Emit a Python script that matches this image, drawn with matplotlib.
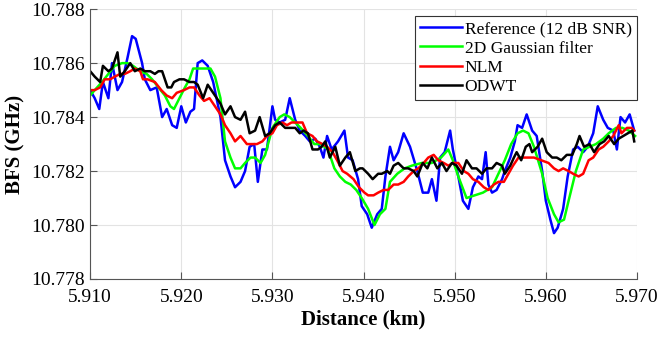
import matplotlib
matplotlib.use("Agg")
import matplotlib.pyplot as plt

plt.rcParams["font.family"] = ["Liberation Serif", "DejaVu Serif"]

# Reference (12 dB SNR)
ref_x = [5.9100, 5.9105, 5.9110, 5.9114, 5.9120, 5.9124, 5.9130, 5.9135, 5.9141, 5.9146,
         5.9150, 5.9157, 5.9160, 5.9166, 5.9173, 5.9179, 5.9184, 5.9190, 5.9195, 5.9200,
         5.9205, 5.9210, 5.9214, 5.9218, 5.9223, 5.9229, 5.9235, 5.9243, 5.9248, 5.9254,
         5.9259, 5.9265, 5.9270, 5.9275, 5.9280, 5.9284, 5.9289, 5.9294, 5.9300, 5.9303,
         5.9308, 5.9314, 5.9319, 5.9325, 5.9330, 5.9336, 5.9341, 5.9347, 5.9352, 5.9356,
         5.9360, 5.9365, 5.9372, 5.9379, 5.9383, 5.9388, 5.9394, 5.9398, 5.9404, 5.9409,
         5.9415, 5.9420, 5.9424, 5.9429, 5.9433, 5.9438, 5.9444, 5.9451, 5.9459, 5.9465,
         5.9471, 5.9475, 5.9480, 5.9484, 5.9489, 5.9495, 5.9498, 5.9504, 5.9509, 5.9515,
         5.9520, 5.9526, 5.9530, 5.9534, 5.9537, 5.9541, 5.9546, 5.9552, 5.9555, 5.9561,
         5.9566, 5.9569, 5.9574, 5.9579, 5.9585, 5.9590, 5.9596, 5.9600, 5.9605, 5.9609,
         5.9613, 5.9619, 5.9624, 5.9630, 5.9635, 5.9641, 5.9646, 5.9652, 5.9657, 5.9663,
         5.9668, 5.9674, 5.9678, 5.9682, 5.9687, 5.9692, 5.9697]
ref_y = [10.7850, 10.7847, 10.7843, 10.7853, 10.7847, 10.7860, 10.7850, 10.7853, 10.7862, 10.7870,
         10.7869, 10.7860, 10.7854, 10.7850, 10.7851, 10.7840, 10.7843, 10.7837, 10.7836, 10.7844,
         10.7838, 10.7842, 10.7843, 10.7860, 10.7861, 10.7859, 10.7853, 10.7840, 10.7824, 10.7818,
         10.7814, 10.7816, 10.7820, 10.7829, 10.7830, 10.7816, 10.7828, 10.7828, 10.7844, 10.7839,
         10.7838, 10.7839, 10.7847, 10.7839, 10.7835, 10.7833, 10.7831, 10.7832, 10.7829, 10.7825,
         10.7833, 10.7828, 10.7831, 10.7835, 10.7825, 10.7824, 10.7817, 10.7807, 10.7804, 10.7799,
         10.7804, 10.7806, 10.7818, 10.7829, 10.7824, 10.7827, 10.7834, 10.7829, 10.7820, 10.7812,
         10.7812, 10.7817, 10.7809, 10.7825, 10.7827, 10.7835, 10.7828, 10.7818, 10.7809, 10.7806,
         10.7814, 10.7818, 10.7817, 10.7827, 10.7815, 10.7812, 10.7813, 10.7817, 10.7820, 10.7825,
         10.7831, 10.7837, 10.7836, 10.7841, 10.7835, 10.7833, 10.7820, 10.7809, 10.7802, 10.7797,
         10.7799, 10.7806, 10.7818, 10.7828, 10.7829, 10.7827, 10.7829, 10.7834, 10.7844, 10.7839,
         10.7836, 10.7835, 10.7828, 10.7840, 10.7838, 10.7841, 10.7835]

# 2D Gaussian filter
gau_x = [5.9100, 5.9105, 5.9113, 5.9120, 5.9127, 5.9135, 5.9141, 5.9147, 5.9155, 5.9162,
         5.9168, 5.9175, 5.9182, 5.9188, 5.9192, 5.9198, 5.9204, 5.9209, 5.9213, 5.9219,
         5.9225, 5.9232, 5.9237, 5.9243, 5.9248, 5.9254, 5.9259, 5.9265, 5.9270, 5.9276,
         5.9281, 5.9287, 5.9292, 5.9300, 5.9308, 5.9313, 5.9319, 5.9325, 5.9331, 5.9339,
         5.9346, 5.9353, 5.9361, 5.9368, 5.9374, 5.9380, 5.9386, 5.9392, 5.9398, 5.9405,
         5.9412, 5.9418, 5.9424, 5.9429, 5.9437, 5.9445, 5.9453, 5.9464, 5.9475, 5.9485,
         5.9493, 5.9498, 5.9504, 5.9513, 5.9522, 5.9531, 5.9541, 5.9548, 5.9555, 5.9562,
         5.9569, 5.9575, 5.9581, 5.9587, 5.9596, 5.9602, 5.9609, 5.9614, 5.9620, 5.9625,
         5.9633, 5.9641, 5.9648, 5.9655, 5.9663, 5.9669, 5.9677, 5.9684, 5.9691, 5.9698]
gau_y = [10.7848, 10.7850, 10.7853, 10.7856, 10.7859, 10.7860, 10.7860, 10.7859, 10.7857, 10.7856,
         10.7854, 10.7851, 10.7848, 10.7844, 10.7843, 10.7847, 10.7851, 10.7854, 10.7858, 10.7858,
         10.7858, 10.7858, 10.7855, 10.7847, 10.7831, 10.7825, 10.7821, 10.7821, 10.7823, 10.7825,
         10.7825, 10.7823, 10.7826, 10.7836, 10.7840, 10.7841, 10.7840, 10.7838, 10.7836, 10.7833,
         10.7830, 10.7830, 10.7828, 10.7821, 10.7818, 10.7816, 10.7815, 10.7813, 10.7810, 10.7806,
         10.7800, 10.7804, 10.7806, 10.7816, 10.7819, 10.7821, 10.7822, 10.7823, 10.7823, 10.7825,
         10.7828, 10.7824, 10.7818, 10.7810, 10.7811, 10.7812, 10.7814, 10.7819, 10.7824, 10.7830,
         10.7834, 10.7835, 10.7834, 10.7829, 10.7819, 10.7810, 10.7804, 10.7801, 10.7802, 10.7809,
         10.7820, 10.7828, 10.7829, 10.7830, 10.7832, 10.7834, 10.7836, 10.7836, 10.7835, 10.7833]

# NLM
nlm_x = [5.9100, 5.9105, 5.9111, 5.9116, 5.9122, 5.9127, 5.9133, 5.9138, 5.9144, 5.9149,
         5.9155, 5.9158, 5.9163, 5.9171, 5.9178, 5.9184, 5.9190, 5.9195, 5.9203, 5.9209,
         5.9214, 5.9220, 5.9225, 5.9231, 5.9237, 5.9243, 5.9248, 5.9254, 5.9259, 5.9265,
         5.9272, 5.9278, 5.9283, 5.9289, 5.9294, 5.9300, 5.9305, 5.9311, 5.9316, 5.9321,
         5.9327, 5.9333, 5.9338, 5.9344, 5.9349, 5.9355, 5.9360, 5.9366, 5.9371, 5.9377,
         5.9382, 5.9389, 5.9395, 5.9401, 5.9405, 5.9411, 5.9416, 5.9422, 5.9427, 5.9433,
         5.9438, 5.9444, 5.9449, 5.9455, 5.9460, 5.9466, 5.9471, 5.9477, 5.9482, 5.9488,
         5.9493, 5.9498, 5.9504, 5.9510, 5.9515, 5.9520, 5.9526, 5.9532, 5.9537, 5.9543,
         5.9548, 5.9554, 5.9559, 5.9564, 5.9570, 5.9574, 5.9577, 5.9581, 5.9587, 5.9595,
         5.9603, 5.9609, 5.9614, 5.9619, 5.9625, 5.9630, 5.9636, 5.9641, 5.9647, 5.9652,
         5.9658, 5.9663, 5.9669, 5.9674, 5.9680, 5.9683, 5.9689, 5.9694, 5.9697]
nlm_y = [10.7850, 10.7850, 10.7851, 10.7854, 10.7854, 10.7855, 10.7856, 10.7856, 10.7857, 10.7858,
         10.7857, 10.7854, 10.7854, 10.7853, 10.7850, 10.7848, 10.7847, 10.7849, 10.7850, 10.7851,
         10.7851, 10.7848, 10.7846, 10.7847, 10.7844, 10.7841, 10.7837, 10.7834, 10.7831, 10.7833,
         10.7830, 10.7830, 10.7830, 10.7831, 10.7833, 10.7834, 10.7837, 10.7838, 10.7837, 10.7838,
         10.7838, 10.7838, 10.7834, 10.7833, 10.7831, 10.7830, 10.7829, 10.7827, 10.7824, 10.7820,
         10.7819, 10.7817, 10.7814, 10.7812, 10.7811, 10.7811, 10.7812, 10.7813, 10.7813, 10.7815,
         10.7815, 10.7816, 10.7818, 10.7820, 10.7821, 10.7823, 10.7825, 10.7826, 10.7824, 10.7823,
         10.7822, 10.7823, 10.7823, 10.7820, 10.7819, 10.7817, 10.7816, 10.7814, 10.7813, 10.7815,
         10.7816, 10.7816, 10.7819, 10.7822, 10.7825, 10.7825, 10.7825, 10.7825, 10.7825, 10.7824,
         10.7823, 10.7821, 10.7820, 10.7821, 10.7820, 10.7819, 10.7818, 10.7819, 10.7824, 10.7825,
         10.7828, 10.7829, 10.7831, 10.7833, 10.7837, 10.7834, 10.7836, 10.7836, 10.7835]

# ODWT
odw_x = [5.9100, 5.9105, 5.9111, 5.9114, 5.9120, 5.9124, 5.9130, 5.9133, 5.9138, 5.9144,
         5.9149, 5.9155, 5.9160, 5.9166, 5.9171, 5.9175, 5.9179, 5.9185, 5.9189, 5.9192,
         5.9198, 5.9203, 5.9209, 5.9214, 5.9218, 5.9224, 5.9229, 5.9237, 5.9243, 5.9248,
         5.9254, 5.9259, 5.9265, 5.9270, 5.9275, 5.9281, 5.9286, 5.9292, 5.9297, 5.9303,
         5.9308, 5.9314, 5.9319, 5.9325, 5.9330, 5.9334, 5.9339, 5.9344, 5.9350, 5.9354,
         5.9358, 5.9363, 5.9369, 5.9374, 5.9380, 5.9385, 5.9391, 5.9396, 5.9399, 5.9405,
         5.9410, 5.9416, 5.9420, 5.9426, 5.9429, 5.9433, 5.9438, 5.9444, 5.9449, 5.9455,
         5.9459, 5.9465, 5.9470, 5.9475, 5.9481, 5.9486, 5.9491, 5.9497, 5.9502, 5.9508,
         5.9513, 5.9519, 5.9524, 5.9530, 5.9535, 5.9541, 5.9546, 5.9552, 5.9555, 5.9561,
         5.9565, 5.9568, 5.9573, 5.9578, 5.9582, 5.9585, 5.9591, 5.9596, 5.9601, 5.9607,
         5.9612, 5.9617, 5.9623, 5.9629, 5.9634, 5.9637, 5.9642, 5.9648, 5.9653, 5.9659,
         5.9664, 5.9669, 5.9675, 5.9680, 5.9685, 5.9690, 5.9695, 5.9697]
odw_y = [10.7857, 10.7855, 10.7853, 10.7859, 10.7857, 10.7858, 10.7864, 10.7855, 10.7857, 10.7860,
         10.7857, 10.7858, 10.7857, 10.7857, 10.7856, 10.7857, 10.7857, 10.7851, 10.7851, 10.7853,
         10.7854, 10.7854, 10.7853, 10.7853, 10.7852, 10.7847, 10.7852, 10.7848, 10.7845, 10.7841,
         10.7844, 10.7840, 10.7839, 10.7842, 10.7834, 10.7835, 10.7840, 10.7833, 10.7834, 10.7837,
         10.7838, 10.7836, 10.7836, 10.7836, 10.7834, 10.7835, 10.7834, 10.7828, 10.7828, 10.7829,
         10.7831, 10.7825, 10.7829, 10.7822, 10.7825, 10.7827, 10.7820, 10.7821, 10.7821, 10.7819,
         10.7817, 10.7819, 10.7819, 10.7820, 10.7819, 10.7822, 10.7823, 10.7821, 10.7821, 10.7820,
         10.7818, 10.7823, 10.7821, 10.7825, 10.7821, 10.7823, 10.7820, 10.7823, 10.7822, 10.7819,
         10.7824, 10.7821, 10.7821, 10.7819, 10.7821, 10.7821, 10.7823, 10.7822, 10.7819, 10.7822,
         10.7825, 10.7827, 10.7824, 10.7829, 10.7830, 10.7827, 10.7829, 10.7832, 10.7827, 10.7825,
         10.7825, 10.7824, 10.7826, 10.7826, 10.7830, 10.7833, 10.7829, 10.7830, 10.7827, 10.7830,
         10.7831, 10.7833, 10.7830, 10.7832, 10.7833, 10.7834, 10.7835, 10.7831]

x_ticks = [5.910, 5.920, 5.930, 5.940, 5.950, 5.960, 5.970]
y_ticks = [10.778, 10.780, 10.782, 10.784, 10.786, 10.788]

fig = plt.figure(figsize=(6.58, 3.39), dpi=100)
ax = fig.add_axes([0.137, 0.177, 0.831, 0.796])

ax.plot(ref_x, ref_y, color=(0, 0, 1), lw=1.8, label="Reference (12 dB SNR)")
ax.plot(gau_x, gau_y, color=(0, 1, 0), lw=1.8, label="2D Gaussian filter")
ax.plot(nlm_x, nlm_y, color=(1, 0, 0), lw=1.8, label="NLM")
ax.plot(odw_x, odw_y, color="k", lw=1.8, label="ODWT")

ax.set_xlim(5.910, 5.970)
ax.set_ylim(10.778, 10.788)
ax.set_xticks(x_ticks)
ax.set_xticklabels(["%.3f" % t for t in x_ticks])
ax.set_yticks(y_ticks)
ax.set_yticklabels(["%.3f" % t for t in y_ticks])
ax.tick_params(direction="in", length=5, width=0.8, color="#555555",
               labelsize=14)
ax.tick_params(axis="x", pad=7)
ax.tick_params(axis="y", pad=4)
ax.grid(True, color="#e3e3e3", lw=0.8)
ax.set_axisbelow(True)
for side in ["top", "right"]:
    ax.spines[side].set_visible(False)
for side in ["left", "bottom"]:
    ax.spines[side].set_color("#555555")
    ax.spines[side].set_linewidth(0.8)

ax.set_xlabel("Distance (km)", fontsize=15, fontweight="bold", labelpad=3)
ax.set_ylabel("BFS (GHz)", fontsize=15, fontweight="bold", labelpad=4)

leg = ax.legend(loc="upper right", bbox_to_anchor=(1.0, 0.975), fontsize=12.5,
                handlelength=2.4, handletextpad=0.15, labelspacing=0.18,
                borderpad=0.3, borderaxespad=0.0, fancybox=False,
                framealpha=1.0, edgecolor="#333333")
leg.get_frame().set_linewidth(0.8)

fig.savefig("out.png", dpi=100)
